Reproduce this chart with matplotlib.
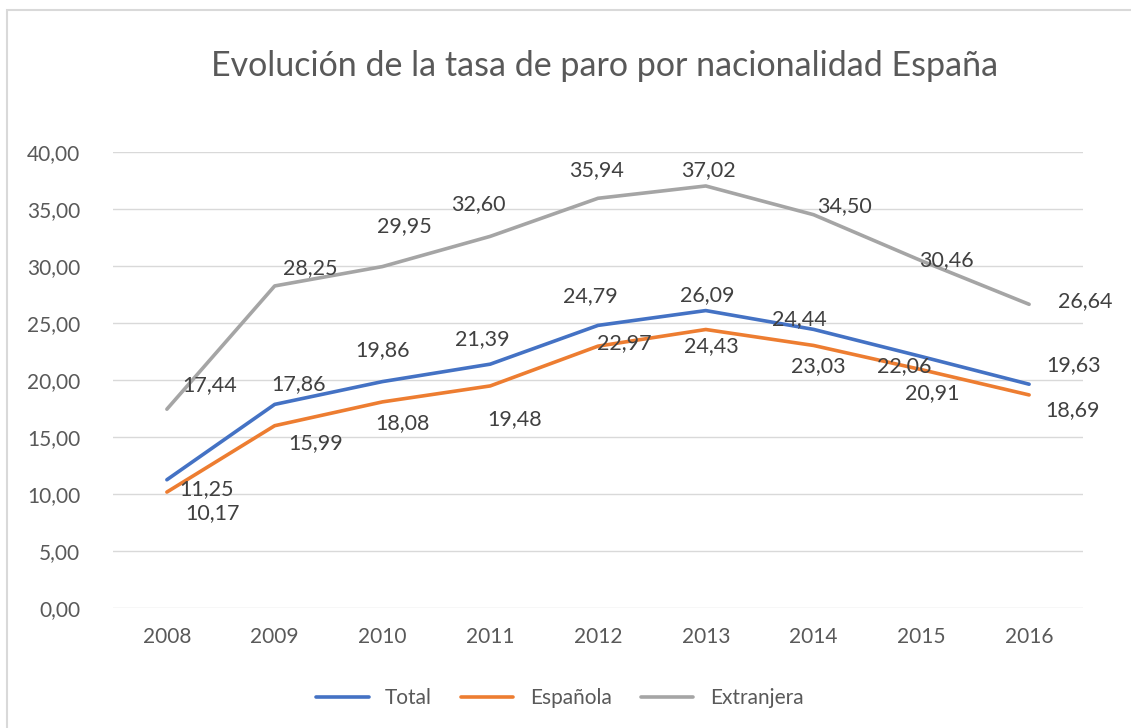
import matplotlib.pyplot as plt
from matplotlib.patches import Rectangle

years = [2008, 2009, 2010, 2011, 2012, 2013, 2014, 2015, 2016]
total = [11.25, 17.86, 19.86, 21.39, 24.79, 26.09, 24.44, 22.06, 19.63]
espanola = [10.17, 15.99, 18.08, 19.48, 22.97, 24.43, 23.03, 20.91, 18.69]
extranjera = [17.44, 28.25, 29.95, 32.60, 35.94, 37.02, 34.50, 30.46, 26.64]
series_names = ['Total', 'Española', 'Extranjera']

# label offsets in pixels (dx, dy up)
off_total = [(40, -9), (24, 20), (0, 32), (-8, 25), (-8, 29), (1, 15), (-14, 10), (-17, -10), (44, 19)]
off_esp = [(46, -21), (41, -17), (20, -21), (24, -33), (26, 3), (6, -17), (5, -21), (11, -23), (43, -15)]
off_ext = [(43, 24), (36, 18), (22, 40), (-12, 32), (-1, 28), (3, 16), (31, 9), (25, 1), (56, 3)]

colors = ['#4472C4', '#ED7D31', '#A5A5A5']

plt.rcParams['font.family'] = ['Lato', 'DejaVu Sans']

fig = plt.figure(figsize=(11.31, 7.28), dpi=100)
fig.patches.append(Rectangle((7 / 1131, -0.1), 1.2, 1 - 10 / 728 + 0.1,
                             transform=fig.transFigure, fill=False,
                             edgecolor='#d9d9d9', linewidth=1.5))
ax = fig.add_axes([113 / 1131, 1 - 608 / 728, (1083 - 113) / 1131, (608 - 152) / 728])

xs = list(range(len(years)))
for vals, offs, col, name in zip([total, espanola, extranjera], [off_total, off_esp, off_ext], colors, series_names):
    ax.plot(xs, vals, color=col, linewidth=2.6, label=name, solid_capstyle='round')
    for x, v, (dx, dy) in zip(xs, vals, offs):
        ax.annotate(f'{v:.2f}'.replace('.', ','), (x, v), xytext=(dx, dy),
                    textcoords='offset pixels', ha='center', va='center',
                    fontsize=15.5, color='#404040')

ax.set_xlim(-0.5, len(years) - 0.5)
ax.set_ylim(0, 40)
ax.set_yticks(range(0, 41, 5))
ax.set_yticklabels([f'{t},00' for t in range(0, 41, 5)])
ax.set_xticks(xs)
ax.set_xticklabels([str(y) for y in years])
ax.tick_params(length=0, labelsize=15, colors='#595959', pad=14)
ax.tick_params(axis='y', pad=23.5)
ax.grid(axis='y', color='#d9d9d9', linewidth=1)
ax.set_axisbelow(True)
for s in ax.spines.values():
    s.set_visible(False)

fig.text(605 / 1131, 1 - 66 / 728, 'Evolución de la tasa de paro por nacionalidad España',
         ha='center', va='center', fontsize=24.5, color='#595959')

fig.legend(loc='center', bbox_to_anchor=(560 / 1131, 1 - 698 / 728), ncol=3,
           frameon=False, fontsize=15, labelcolor='#595959', handlelength=2.5,
           columnspacing=1.4, handletextpad=0.8)

fig.savefig('out.png', dpi=100)
